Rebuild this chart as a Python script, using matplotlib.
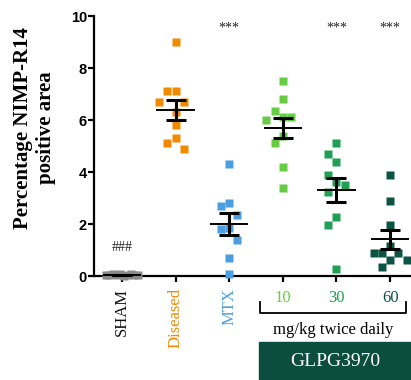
import numpy as np
import matplotlib
matplotlib.use("Agg")
import matplotlib.pyplot as plt
from matplotlib.patches import Rectangle

categories = ["SHAM", "Diseased", "MTX", "10", "30", "60"]
colors = ["#8a8a8a", "#f28a00", "#4b9fe1", "#66cc44", "#1fa055", "#0b5443"]
sham = [0.02, 0.05, 0.08, 0.03, 0.06, 0.01, 0.04, 0.07, 0.02, 0.05]
diseased = [9.0, 7.1, 7.1, 6.7, 6.7, 6.3, 5.8, 5.3, 5.1, 4.9]
mtx = [4.3, 2.8, 2.7, 2.35, 1.85, 1.8, 1.4, 0.7, 0.08]
glpg10 = [7.5, 6.8, 6.35, 6.1, 6.1, 6.0, 5.4, 5.1, 4.2, 3.4]
glpg30 = [5.1, 4.7, 4.38, 3.9, 3.6, 3.5, 3.25, 2.27, 1.96, 0.26]
glpg60 = [3.9, 2.87, 1.97, 1.16, 0.88, 0.88, 0.88, 0.62, 0.62, 0.36]
groups = [sham, diseased, mtx, glpg10, glpg30, glpg60]
sig_labels = ["###", "", "***", "", "***", "***"]

W, H = 411, 380
fig = plt.figure(figsize=(W / 100, H / 100), dpi=100)
ax_left, ax_right, ax_top, ax_bot = 94, 411, 16, 276
ax = fig.add_axes([ax_left / W, 1 - ax_bot / H, (ax_right - ax_left) / W, (ax_bot - ax_top) / H])
ax.set_xlim(-0.52, 5.39)
ax.set_ylim(0, 10)

px_per_x = 54.0
px_per_y = 25.9
msize_px = 8.5

def swarm_offsets(vals):
    order = np.argsort(vals)[::-1]
    placed = []
    offs = np.zeros(len(vals))
    step = 8.3
    ythr = msize_px * 1.5
    for i in order:
        y = vals[i] * px_per_y
        x = 0.0
        for k in [0, -1, 1, -2, 2, -3, 3]:
            x = k * step
            if all((abs(x - px) >= msize_px * 0.95) or (abs(y - py) >= ythr) for px, py in placed):
                break
        placed.append((x, y))
        offs[i] = x / px_per_x
    return offs

for i, (vals, c) in enumerate(zip(groups, colors)):
    vals = np.array(vals)
    if i == 0:
        offs = np.linspace(-0.3, 0.3, len(vals))
    else:
        offs = swarm_offsets(vals)
    ax.plot(i + offs, vals, "s", color=c, ms=6, mec="none", clip_on=False, zorder=3)
    m = vals.mean()
    sem = vals.std(ddof=1) / np.sqrt(len(vals))
    ax.plot([i - 0.34, i + 0.34], [m, m], color="black", lw=1.4, zorder=4, clip_on=False)
    ax.errorbar([i], [m], yerr=[sem], color="black", lw=2.2, capsize=7, capthick=2.2, zorder=4, fmt="none", clip_on=False)
    if sig_labels[i]:
        y = 1.1 if sig_labels[i] == "###" else 9.55
        ax.text(i, y, sig_labels[i], ha="center", va="center", fontsize=10,
                family="Liberation Serif", color="#222222")

for s in ["top", "right"]:
    ax.spines[s].set_visible(False)
ax.spines["left"].set_linewidth(1.6)
ax.spines["bottom"].set_linewidth(1.6)
ax.set_yticks([0, 2, 4, 6, 8, 10])
ax.tick_params(axis="y", length=4, width=1.6, labelsize=10.5, pad=1)
for t in ax.get_yticklabels():
    t.set_fontweight("bold")
    t.set_family("Liberation Sans")
ax.set_xticks(range(len(categories)))
ax.set_xticklabels([])
ax.tick_params(axis="x", length=4, width=1.6)

for i, (lab, c) in enumerate(zip(categories, colors)):
    col = "#111111" if i == 0 else c
    if i < 3:
        ax.text(i, -0.45, lab, rotation=90, ha="center", va="top", fontsize=12,
                family="Liberation Serif", color=col, clip_on=False)
    else:
        ax.text(i, -0.55, lab, ha="center", va="top", fontsize=12,
                family="Liberation Serif", color=col, clip_on=False)

ax.set_ylabel("Percentage NIMP-R14\npositive area", fontsize=15, fontweight="bold",
              family="Liberation Serif", linespacing=1.2)
ax.yaxis.set_label_coords(-0.12, 0.57)

def fx(px):
    return px / W
def fy(py):
    return 1 - py / H
fig.add_artist(plt.Line2D([fx(260), fx(260), fx(406), fx(406)], [fy(302), fy(313), fy(313), fy(302)],
                          color="black", lw=1.3))
fig.text(fx(333), fy(330), "mg/kg twice daily", ha="center", va="center", fontsize=12,
         family="Liberation Serif")
fig.add_artist(Rectangle((fx(259), 0), fx(411) - fx(259), fy(342), color="#0b4d3e",
                         transform=fig.transFigure))
fig.text(fx(335), fy(361), "GLPG3970", ha="center", va="center", fontsize=14,
         family="Liberation Serif", color="white")

fig.savefig("out.png", dpi=100)
